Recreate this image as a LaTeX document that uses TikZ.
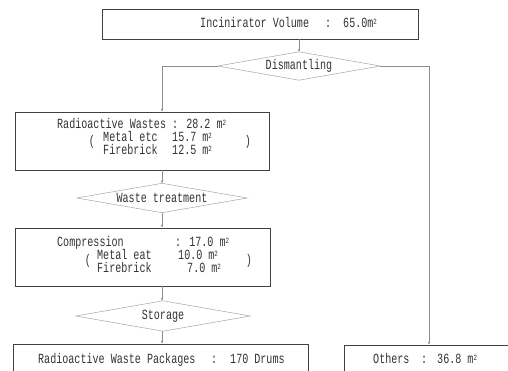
\documentclass[tikz,border=0pt]{standalone}
\usepackage{fontspec}
\usetikzlibrary{arrows.meta}
\newfontfamily\diagfont[FakeStretch=0.72]{Liberation Mono}
\newcommand\dtext{\diagfont\fontsize{14}{15}\selectfont}
\newcommand\sqm{m\smash{\raisebox{3pt}{\fontsize{8}{8}\selectfont 2}}}
\tikzset{
  stepbox/.style={draw=black!75, line width=0.9pt, rectangle, inner sep=0pt},
  decision/.style={rectangle, inner sep=0pt, font=\dtext, text=black!80},
  decisionline/.style={draw=black!35, line width=0.5pt},
  label/.style={anchor=west, inner sep=0pt, text height=8pt, text depth=2pt, font=\dtext, text=black!80},
  paren/.style={inner sep=0pt, text height=8pt, text depth=2pt, font=\dtext, text=black!80},
  flow/.style={draw=black!45, line width=0.5pt, -{Stealth[length=3pt,width=2.4pt]}},
  plain/.style={draw=black!45, line width=0.5pt}
}
% diamond outline through the four side anchors of a decision node
\newcommand\rhombus[1]{\draw[decisionline] (#1.west) -- (#1.north) -- (#1.east) -- (#1.south) -- cycle;}
\begin{document}
\begin{tikzpicture}[x=1pt,y=-1pt]
  \clip (0,0) rectangle (508,370);
  \fill[white] (0,0) rectangle (508,370);
  % boxes
  \node[stepbox, minimum width=316pt, minimum height=30pt] (incvol) at (260,24) {};
  \node[stepbox, minimum width=254pt, minimum height=58pt] (radw) at (142,141) {};
  \node[stepbox, minimum width=255pt, minimum height=58pt] (comp) at (142.5,257) {};
  \node[stepbox, minimum width=295pt, minimum height=42pt] (pack) at (160.5,365) {};
  \node[stepbox, minimum width=196pt, minimum height=40pt] (others) at (442,365) {};
  % decisions
  \node[decision, minimum width=162pt, minimum height=28pt] (dism) at (299,66) {Dismantling};
  \node[decision, minimum width=170pt, minimum height=29pt] (wtreat) at (162,198) {Waste treatment};
  \node[decision, minimum width=174pt, minimum height=30pt] (stor) at (163,316) {Storage};
  \rhombus{dism}
  \rhombus{wtreat}
  \rhombus{stor}
  % box texts
  \node[label] (incvolt) at (200,24) {Incinirator Volume};
  \node[label] (incvolc) at (325,24) {:};
  \node[label] (incvolv) at (343,24) {65.0\sqm};

  \node[label] (radwt) at (57,125) {Radioactive Wastes};
  \node[label] (radwv) at (172,125) {: 28.2 \sqm};
  \node[label] (radwm) at (103,138) {Metal etc};
  \node[label] (radwmv) at (172,138) {15.7 \sqm};
  \node[label] (radwf) at (103,151) {Firebrick};
  \node[label] (radwfv) at (172,151) {12.5 \sqm};
  \node[paren] (radwl) at (92,142) {(};
  \node[paren] (radwr) at (248,142) {)};

  \node[label] (compt) at (57,243) {Compression};
  \node[label] (compv) at (175,243) {: 17.0 \sqm};
  \node[label] (compm) at (97,256) {Metal eat};
  \node[label] (compmv) at (178,256) {10.0 \sqm};
  \node[label] (compf) at (97,269) {Firebrick};
  \node[label] (compfv) at (187,269) {7.0 \sqm};
  \node[paren] (compl) at (88,261) {(};
  \node[paren] (compr) at (249,261) {)};

  \node[label] (packt) at (38,360) {Radioactive Waste Packages};
  \node[label] (packc) at (211,360) {:};
  \node[label] (packv) at (230,360) {170 Drums};

  \node[label] (otherst) at (373,360) {Others};
  \node[label] (othersc) at (421,360) {:};
  \node[label] (othersv) at (437,360) {36.8 \sqm};
  % connectors
  \coordinate (lcol) at (162,66);
  \coordinate (rcol) at (429,66);
  \draw[flow] (dism.north |- incvol.south) -- (dism.north);
  \draw[plain] (dism.west) -- (lcol);
  \draw[flow] (lcol) -- (lcol |- radw.north);
  \draw[plain] (dism.east) -- (rcol);
  \draw[flow] (rcol) -- (rcol |- others.north);
  \draw[flow] (lcol |- radw.south) -- (wtreat.north);
  \draw[flow] (wtreat.south) -- (lcol |- comp.north);
  \draw[flow] (lcol |- comp.south) -- (lcol |- stor.north);
  \draw[flow] (lcol |- stor.south) -- (lcol |- pack.north);
\end{tikzpicture}
\end{document}
